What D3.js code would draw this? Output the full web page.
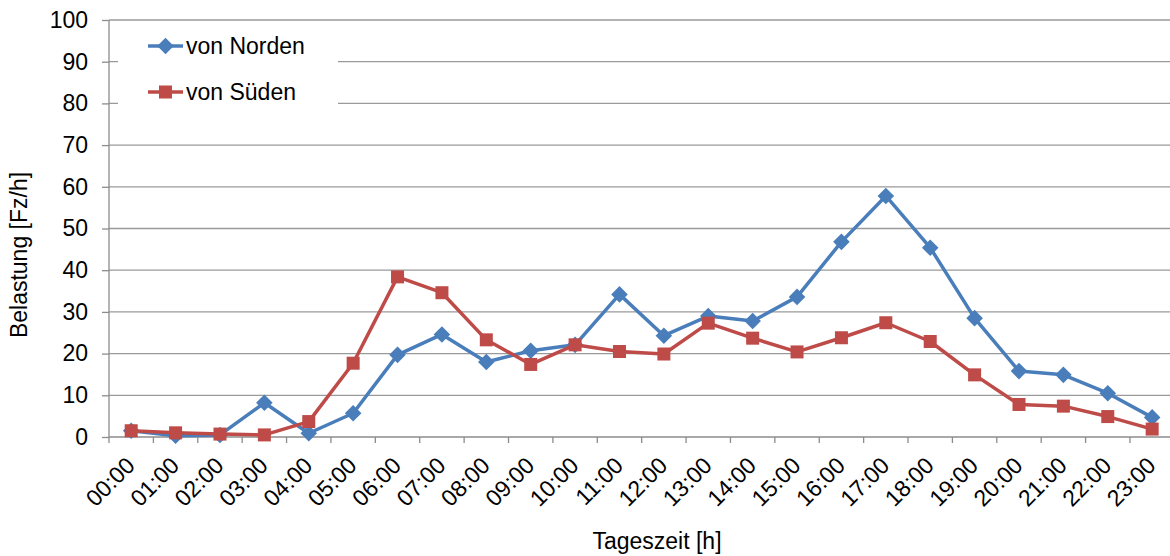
<!DOCTYPE html>
<html>
<head>
<meta charset="utf-8">
<script src="https://cdn.jsdelivr.net/npm/d3@7"></script>
<style>
  body { margin: 0; background: #fff; }
  svg { display: block; font-family: "Liberation Sans", Arial, sans-serif; }
</style>
</head>
<body>
<svg width="1170" height="556"></svg>
<script>
// categories and series
var hours = ["00:00","01:00","02:00","03:00","04:00","05:00","06:00","07:00","08:00","09:00","10:00","11:00",
             "12:00","13:00","14:00","15:00","16:00","17:00","18:00","19:00","20:00","21:00","22:00","23:00"];
var vonNorden = [1.5, 0.3, 0.5, 8.2, 0.9, 5.7, 19.7, 24.6, 18.0, 20.7, 22.1, 34.2,
                 24.3, 29.0, 27.8, 33.6, 46.8, 57.8, 45.4, 28.5, 15.8, 14.9, 10.5, 4.7];
var vonSueden = [1.5, 1.0, 0.7, 0.5, 3.7, 17.7, 38.4, 34.6, 23.3, 17.4, 22.1, 20.5,
                 19.9, 27.3, 23.7, 20.4, 23.8, 27.4, 22.9, 14.9, 7.8, 7.4, 4.9, 1.9];
var yTicks = [0, 10, 20, 30, 40, 50, 60, 70, 80, 90, 100];
var seriesNames = ["von Norden", "von Süden"];

var blue = "#4a7ebb", red = "#be4b48";
var gridColor = "#9a9a9a", axisColor = "#8c8c8c";
var fontSize = 23;

var svg = d3.select("svg");
var plotLeft = 109, plotTop = 20, plotBottom = 437, step = 44.39;

var x = d3.scaleBand().domain(hours).range([plotLeft, plotLeft + step * hours.length]);
var y = d3.scaleLinear().domain([0, 100]).range([plotBottom, plotTop]);

// gridlines
svg.append("g").selectAll("line").data(yTicks.slice(1)).join("line")
  .attr("x1", plotLeft).attr("x2", 1170)
  .attr("y1", d => y(d)).attr("y2", d => y(d))
  .attr("stroke", gridColor).attr("stroke-width", 1.3);

// legend box (covers gridlines)
svg.append("rect").attr("x", 118).attr("y", 24).attr("width", 220).attr("height", 86).attr("fill", "#fff");

// y axis
var yAxis = svg.append("g").attr("transform", "translate(" + plotLeft + ",0)")
  .call(d3.axisLeft(y).tickValues(yTicks).tickSize(7).tickPadding(14));
yAxis.select(".domain").remove();
yAxis.selectAll("line").attr("stroke", axisColor).attr("stroke-width", 1.3);
yAxis.selectAll("text").attr("font-size", fontSize).attr("fill", "#000")
  .attr("font-family", "Liberation Sans, Arial, sans-serif");
svg.append("line").attr("x1", plotLeft).attr("x2", plotLeft).attr("y1", plotTop).attr("y2", plotBottom)
  .attr("stroke", axisColor).attr("stroke-width", 1.3);

// x axis (ticks between categories)
svg.append("line").attr("x1", plotLeft).attr("x2", 1170).attr("y1", plotBottom).attr("y2", plotBottom)
  .attr("stroke", axisColor).attr("stroke-width", 1.3);
svg.append("g").selectAll("line").data(hours).join("line")
  .attr("x1", d => x(d)).attr("x2", d => x(d))
  .attr("y1", plotBottom).attr("y2", plotBottom + 6)
  .attr("stroke", axisColor).attr("stroke-width", 1.3);
svg.append("g").selectAll("text").data(hours).join("text")
  .attr("transform", d => "translate(" + (x(d) + x.bandwidth() / 2 + 5) + "," + 467 + ") rotate(-45)")
  .attr("text-anchor", "end")
  .attr("font-size", fontSize)
  .text(d => d);

// axis titles
svg.append("text").attr("transform", "translate(27,255) rotate(-90)")
  .attr("text-anchor", "middle").attr("font-size", fontSize).text("Belastung [Fz/h]");
svg.append("text").attr("x", 657).attr("y", 549)
  .attr("text-anchor", "middle").attr("font-size", fontSize).text("Tageszeit [h]");

var line = d3.line().x((d, i) => x(hours[i]) + x.bandwidth() / 2).y(d => y(d));

function diamond(g, cx, cy) {
  g.append("path").attr("d", d3.symbol(d3.symbolDiamond2, 175)())
    .attr("transform", "translate(" + cx + "," + cy + ")").attr("fill", blue);
}
function square(g, cx, cy) {
  g.append("rect").attr("x", cx - 6.5).attr("y", cy - 6.5).attr("width", 13).attr("height", 13)
    .attr("fill", red);
}

// series
var gN = svg.append("g");
gN.append("path").datum(vonNorden).attr("d", line).attr("fill", "none")
  .attr("stroke", blue).attr("stroke-width", 3.5).attr("stroke-linejoin", "round");
vonNorden.forEach((v, i) => diamond(gN, x(hours[i]) + x.bandwidth() / 2, y(v)));

var gS = svg.append("g");
gS.append("path").datum(vonSueden).attr("d", line).attr("fill", "none")
  .attr("stroke", red).attr("stroke-width", 3.5).attr("stroke-linejoin", "round");
vonSueden.forEach((v, i) => square(gS, x(hours[i]) + x.bandwidth() / 2, y(v)));

// legend
var legY = [46, 92];
var lg = svg.append("g");
seriesNames.forEach((name, i) => {
  var c = i === 0 ? blue : red;
  lg.append("line").attr("x1", 148).attr("x2", 183).attr("y1", legY[i]).attr("y2", legY[i])
    .attr("stroke", c).attr("stroke-width", 3.5);
  if (i === 0) diamond(lg, 165.5, legY[i]); else square(lg, 165.5, legY[i]);
  lg.append("text").attr("x", 186).attr("y", legY[i] + 8).attr("font-size", fontSize).text(name);
});
</script>
</body>
</html>
